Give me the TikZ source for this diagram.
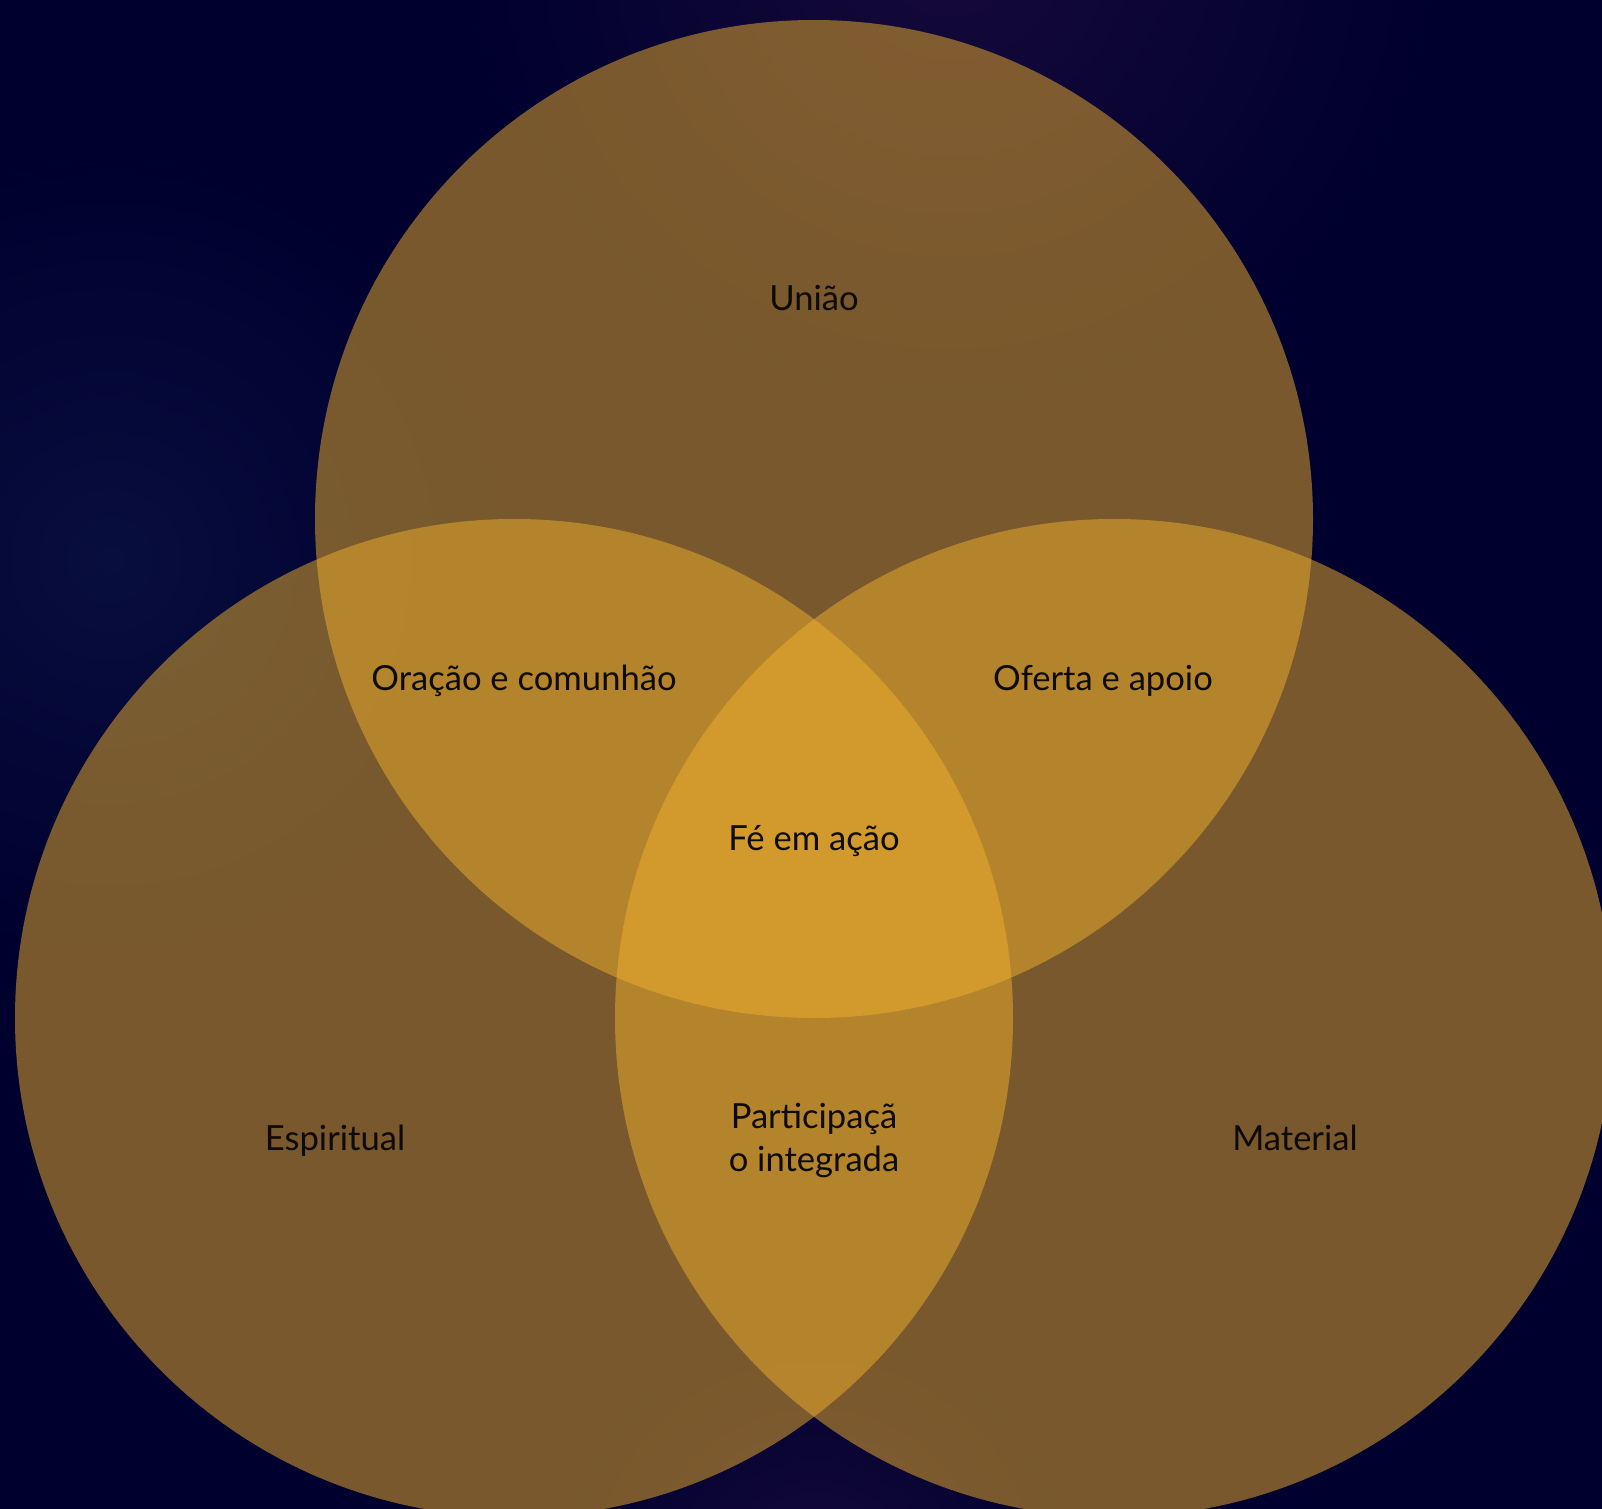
\documentclass[tikz,border=0pt]{standalone}
\usepackage{fontspec}
\setmainfont{Lato}
\usetikzlibrary{positioning}
\definecolor{bgnavy}{RGB}{0,0,46}
\definecolor{glowblue}{RGB}{8,14,62}
\definecolor{glowplum}{RGB}{22,10,58}
\definecolor{ringgold}{RGB}{240,176,44}
\definecolor{inkdark}{RGB}{14,10,6}

\begin{document}
\begin{tikzpicture}[x=0.5pt,y=-0.5pt,
  ring/.style={fill=ringgold,fill opacity=0.5},
  lbl/.style={text=inkdark,font=\fontsize{17.3}{21.5}\selectfont,align=center,inner sep=0pt,anchor=base}]
  \useasboundingbox (0,0) rectangle (1602,1509);
  \fill[bgnavy] (0,0) rectangle (1602,1509);
% faint glow in the background
  \fill[inner color=glowblue,outer color=bgnavy] (110,560) circle (400);
  \fill[inner color=glowplum,outer color=bgnavy] (950,-60) circle (480);
  \fill[inner color=glowplum,outer color=bgnavy] (815,1580) circle (260);
% the three sets
  \fill[ring] (814,519) circle (499);
  \fill[ring] (514,1018) circle (499);
  \fill[ring] (1114,1018) circle (499);
% labels (placed at their baselines)
  \node[lbl] (uniao) at (814,310) {União};
  \node[lbl] (oracao) at (524,690) {Oração e comunhão};
  \node[lbl] (oferta) at (1103,690) {Oferta e apoio};
  \node[lbl] (fe) at (814,850) {Fé em ação};
  \node[lbl] (partic) at (814,1171) {Participaçã\\o integrada};
  \node[lbl] (espirit) at (335,1150) {Espiritual};
  \node[lbl] (material) at (1295,1150) {Material};
\end{tikzpicture}
\end{document}
